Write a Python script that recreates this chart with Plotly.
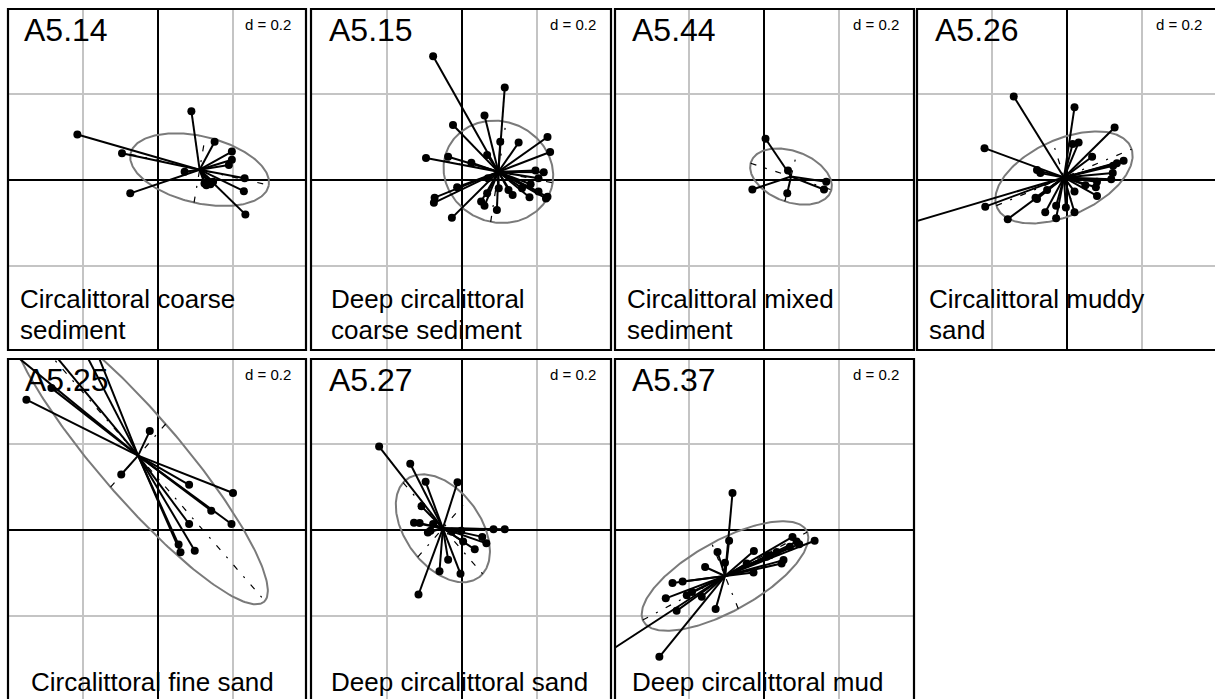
import numpy as np
import plotly.graph_objects as go

# ---------------- data ----------------
codes = ["A5.14", "A5.15", "A5.44", "A5.26", "A5.25", "A5.27", "A5.37"]
habitats = [
    ["Circalittoral coarse", "sediment"],
    ["Deep circalittoral", "coarse sediment"],
    ["Circalittoral mixed", "sediment"],
    ["Circalittoral muddy", "sand"],
    ["Circalittoral fine sand"],
    ["Deep circalittoral sand"],
    ["Deep circalittoral mud"],
]
scale_label = "d = 0.2"
grid_step = 0.2

# class centroids
centre_x = [0.111, 0.097, 0.072, -0.008, -0.053, -0.051, -0.104]
centre_y = [0.024, 0.019, 0.008, 0.006, 0.173, 0.004, -0.107]
# ellipse semi-axes and orientation (degrees)
ell_a = [0.188, 0.147, 0.112, 0.192, 0.478, 0.150, 0.242]
ell_b = [0.078, 0.118, 0.060, 0.090, 0.104, 0.095, 0.084]
ell_angle = [-11, -10, -16, 20, -45, -45, 25]

a514_x = [-0.215, -0.096, 0.089, 0.151, 0.197, 0.197, 0.189, 0.071, 0.231, 0.229,
          0.233, -0.074, 0.124, 0.133, 0.147, 0.129, 0.140]
a514_y = [0.106, 0.062, 0.160, 0.089, 0.066, 0.047, 0.035, 0.019, 0.004, -0.026,
          -0.080, -0.031, -0.008, -0.004, -0.004, -0.012, -0.010]

a515_x = [-0.077, 0.114, 0.060, -0.024, 0.102, 0.151, 0.228, 0.235, -0.096, -0.037,
          0.025, 0.067, 0.196, 0.218, -0.073, -0.075, -0.013, -0.027, 0.051, 0.067,
          0.093, 0.098, 0.135, 0.160, 0.183, 0.204, 0.224, 0.228, 0.124, 0.069,
          0.204, 0.060, 0.180]
a515_y = [0.288, 0.215, 0.150, 0.128, 0.089, 0.087, 0.100, 0.065, 0.051, 0.054,
          0.040, 0.058, 0.022, 0.018, -0.041, -0.053, -0.017, -0.088, -0.050, -0.031,
          -0.070, -0.019, -0.035, -0.019, -0.010, -0.027, -0.043, -0.039, -0.023, 0.004,
          0.004, -0.060, -0.040]

a544_x = [0.004, 0.064, 0.166, 0.160, 0.062, -0.031]
a544_y = [0.096, 0.022, -0.004, -0.022, -0.031, -0.022]

a526_x = [-0.142, 0.020, 0.127, -0.220, 0.015, 0.031, 0.067, 0.151, 0.133, 0.123,
          0.122, 0.118, -0.080, -0.071, -0.480, -0.218, -0.158, -0.084, -0.080, -0.053,
          -0.058, -0.029, -0.029, -0.003, 0.020, 0.020, 0.080, 0.077, 0.049, 0.080]
a526_y = [0.194, 0.169, 0.122, 0.074, 0.084, 0.087, 0.054, 0.045, 0.039, 0.033,
          0.016, 0.002, 0.023, 0.016, -0.116, -0.062, -0.091, -0.041, -0.044, -0.023,
          -0.075, -0.089, -0.060, -0.064, -0.075, -0.027, -0.037, -0.017, -0.012, -0.004]

a525_x = [-0.351, -0.284, -0.464, -0.352, -0.226, -0.182, -0.022, -0.098, 0.083, 0.200,
          0.142, 0.196, 0.083, 0.055, 0.060, 0.098]
a525_y = [0.303, 0.330, 0.466, 0.488, 0.466, 0.454, 0.230, 0.129, 0.105, 0.086,
          0.045, 0.014, 0.014, -0.034, -0.052, -0.048]

a527_x = [-0.221, -0.138, -0.097, -0.012, -0.108, -0.128, -0.113, -0.077, -0.091, -0.084,
          -0.027, -0.002, 0.084, 0.114, 0.054, 0.065, 0.034, -0.037, -0.060, -0.004,
          -0.116, 0.003]
a527_y = [0.194, 0.154, 0.112, 0.111, 0.055, 0.017, 0.016, 0.014, -0.006, -0.002,
          -0.004, -0.002, 0.002, 0.002, -0.016, -0.031, -0.045, -0.069, -0.096, -0.102,
          -0.150, -0.027]

a537_x = [-0.084, -0.093, -0.124, -0.157, -0.104, -0.027, -0.028, 0.076, 0.094, 0.135,
          0.052, 0.047, -0.046, -0.244, -0.217, -0.262, -0.206, -0.233, -0.166, -0.129,
          -0.279, -0.486, 0.007, 0.034, 0.016, 0.069, 0.087, -0.192]
a537_y = [0.086, -0.025, -0.051, -0.086, -0.076, -0.049, -0.099, -0.016, -0.033, -0.025,
          -0.070, -0.078, -0.078, -0.123, -0.120, -0.159, -0.152, -0.188, -0.155, -0.184,
          -0.295, -0.324, -0.062, -0.051, -0.059, -0.039, -0.027, -0.144]

points_x = [a514_x, a515_x, a544_x, a526_x, a525_x, a527_x, a537_x]
points_y = [a514_y, a515_y, a544_y, a526_y, a525_y, a527_y, a537_y]

# ---------------- layout geometry (pixels) ----------------
W, H = 1215, 699
col_left = [8, 311, 615, 917]
col_right = [306, 611, 914, 1217]
col_zero = [158, 462, 764, 1067]
row_top = [9, 359]
row_bottom = [350, 701]
row_zero = [180, 530]
px_x = 75.0   # pixels per grid step horizontally
px_y = 86.0   # pixels per grid step vertically
title_dx = [14, 16, 15, 16, 15, 16, 15]
label_dx = [10, 18, 10, 10, 21, 18, 15]
FONT = "Liberation Sans, Arial, sans-serif"

fig = go.Figure()
shapes = []
annotations = []


def fx(p):
    return p / W


def fy(p):
    return 1 - p / H


for i in range(7):
    r, c = divmod(i, 4)
    ax = "" if i == 0 else str(i + 1)
    L, R, X0 = col_left[c], col_right[c], col_zero[c]
    T, B, Y0 = row_top[r], row_bottom[r], row_zero[r]
    Bc = min(B, H)
    xr = [-(X0 - L) / px_x * grid_step, (min(R, W) - X0) / px_x * grid_step]
    yr = [-(Bc - Y0) / px_y * grid_step, (Y0 - T) / px_y * grid_step]
    axis_common = dict(showgrid=True, gridcolor="#c4c4c4", gridwidth=2,
                       tick0=0, dtick=grid_step, zeroline=True,
                       zerolinecolor="black", zerolinewidth=2,
                       showticklabels=False, ticks="", showline=False,
                       fixedrange=True)
    fig.layout["xaxis" + ax] = dict(domain=[fx(L), min(fx(R), 1)], range=xr,
                                    anchor="y" + ax, **axis_common)
    fig.layout["yaxis" + ax] = dict(domain=[max(fy(Bc), 0), fy(T)], range=yr,
                                    anchor="x" + ax, **axis_common)

    cx, cy = centre_x[i], centre_y[i]
    a, b, th = ell_a[i], ell_b[i], np.deg2rad(ell_angle[i])
    t = np.linspace(0, 2 * np.pi, 241)
    ex = cx + a * np.cos(t) * np.cos(th) - b * np.sin(t) * np.sin(th)
    ey = cy + a * np.cos(t) * np.sin(th) + b * np.sin(t) * np.cos(th)
    xa, ya = "x" + ax, "y" + ax

    # ellipse
    fig.add_trace(go.Scatter(x=ex, y=ey, mode="lines", xaxis=xa, yaxis=ya,
                             line=dict(color="#7a7a7a", width=2),
                             hoverinfo="skip", showlegend=False))
    # ellipse axes
    axx = [cx - a * np.cos(th), cx + a * np.cos(th), None,
           cx + b * np.sin(th), cx - b * np.sin(th)]
    axy = [cy - a * np.sin(th), cy + a * np.sin(th), None,
           cy - b * np.cos(th), cy + b * np.cos(th)]
    fig.add_trace(go.Scatter(x=axx, y=axy, mode="lines", xaxis=xa, yaxis=ya,
                             line=dict(color="black", width=1.2,
                                       dash="6px,9px,2px,9px"),
                             hoverinfo="skip", showlegend=False))
    # star
    sx, sy = [], []
    for x, y in zip(points_x[i], points_y[i]):
        sx += [cx, x, None]
        sy += [cy, y, None]
    fig.add_trace(go.Scatter(x=sx, y=sy, mode="lines", xaxis=xa, yaxis=ya,
                             line=dict(color="black", width=2),
                             hoverinfo="skip", showlegend=False))
    fig.add_trace(go.Scatter(x=points_x[i], y=points_y[i], mode="markers",
                             xaxis=xa, yaxis=ya,
                             marker=dict(color="black", size=8),
                             showlegend=False))

    # border
    shapes.append(dict(type="rect", xref="paper", yref="paper",
                       x0=fx(L), x1=fx(R), y0=fy(B), y1=fy(T),
                       line=dict(color="black", width=2.2), layer="above"))

    # code title
    annotations.append(dict(text=codes[i], xref="paper", yref="paper",
                            x=fx(L + title_dx[i]), y=fy(T + 1),
                            xanchor="left", yanchor="top", showarrow=False,
                            font=dict(family=FONT, size=32, color="black")))
    # scale label
    annotations.append(dict(text=scale_label, xref="paper", yref="paper",
                            x=fx(min(R, 1230) - 13), y=fy(T + 5),
                            xanchor="right", yanchor="top", showarrow=False,
                            font=dict(family=FONT, size=15, color="black")))
    # habitat label lines (bottom-up)
    lines = habitats[i]
    base = (B - 9) if r == 0 else 693
    for k, txt in enumerate(reversed(lines)):
        annotations.append(dict(text=txt, xref="paper", yref="paper",
                                x=fx(L + label_dx[i]), y=fy(base - 31 * k + 6),
                                xanchor="left", yanchor="bottom",
                                showarrow=False,
                                font=dict(family=FONT, size=26, color="black")))

fig.update_layout(width=W, height=H, margin=dict(l=0, r=0, t=0, b=0),
                  paper_bgcolor="white", plot_bgcolor="white",
                  shapes=shapes, annotations=annotations, showlegend=False)
fig.write_html("out.html")
